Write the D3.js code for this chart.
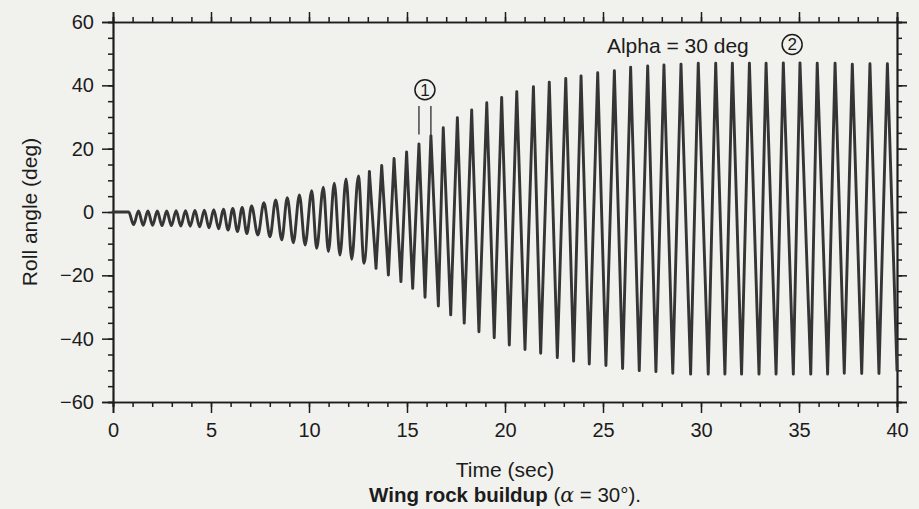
<!DOCTYPE html>
<html>
<head>
<meta charset="utf-8">
<script src="https://cdn.jsdelivr.net/npm/d3@7/dist/d3.min.js"></script>
<style>
  html, body { margin: 0; padding: 0; background: #f1f1ee; }
  svg { display: block; font-family: Arial, "Liberation Sans", sans-serif; }
</style>
</head>
<body>
<div id="chart"></div>
<script>
// roll angle turning points (peaks / troughs)
var timeSec = [0, 0.80,
  1.05, 1.30, 1.54, 1.78, 2.02, 2.26, 2.50, 2.74, 2.98, 3.22, 3.46, 3.70, 3.94, 4.18,
  4.42, 4.66, 4.90, 5.14, 5.39, 5.63, 5.87, 6.11, 6.35, 6.59, 6.83, 7.07,
  7.39, 7.70, 8.01, 8.30, 8.61, 8.89, 9.20, 9.51, 9.80, 10.14, 10.39, 10.73, 10.99, 11.29,
  11.58, 11.89, 12.18, 12.52, 12.81, 13.08, 13.42, 13.71, 14.05, 14.34, 14.69, 14.98,
  15.29, 15.61, 15.92, 16.22, 16.60, 16.85, 17.23, 17.57, 17.92, 18.30, 18.67, 19.07,
  19.45, 19.83, 20.22, 20.60, 21.02, 21.45, 21.82, 22.26, 22.67, 23.10, 23.50, 23.88,
  24.30, 24.73, 25.15, 25.58, 26.00, 26.41, 26.85, 27.28, 27.70, 28.11, 28.56, 28.98,
  29.47, 29.86, 30.37, 30.75, 31.22, 31.60, 32.07, 32.47, 32.96, 33.32, 33.83, 34.20,
  34.71, 35.05, 35.60, 35.93, 36.46, 36.84, 37.31, 37.72, 38.20, 38.62, 39.08, 39.51, 40.0];

var rollDeg = [0, 0,
  -4.0, 0.3, -4.2, 0.3, -4.2, 0.3, -4.3, 0.3, -4.3, 0.4, -4.4, 0.4, -4.5, 0.5,
  -4.7, 0.6, -5.0, 0.7, -5.3, 0.9, -5.7, 1.1, -6.2, 1.4, -6.8, 1.9,
  -7.3, 2.9, -7.8, 3.8, -8.8, 4.5, -9.7, 5.4, -10.4, 6.7, -11.5, 7.8, -12.5, 9.1,
  -13.6, 10.4, -14.9, 11.4, -16.2, 12.7, -17.8, 14.7, -19.9, 16.9, -22.0, 19.0,
  -24.1, 21.5, -26.9, 24.1, -29.7, 26.6, -32.5, 29.8, -35.1, 32.2, -37.8, 34.5,
  -39.7, 36.2, -42.0, 38.0, -43.4, 39.6, -44.6, 41.0, -46.0, 42.2, -47.1, 43.0,
  -48.0, 44.0, -48.5, 44.6, -49.4, 45.7, -50.1, 46.1, -50.4, 46.4, -50.9, 46.7,
  -51.2, 47.0, -51.2, 47.0, -51.2, 47.0, -51.2, 47.0, -51.2, 47.0, -51.2, 47.1,
  -51.2, 47.1, -51.2, 47.0, -51.2, 47.0, -50.9, 46.7, -51.0, 46.8, -51.0, 46.8, -50.0];

var xTicks = [0, 5, 10, 15, 20, 25, 30, 35, 40];
var yTicks = [-60, -40, -20, 0, 20, 40, 60];
var markerTimes = [15.61, 16.22]; // the two peaks flagged by (1)
var smoothUntil = 13.08; // trace looks sinusoidal before this, zig-zag after

var W = 919, H = 509;
var margin = {top: 22, right: 22, bottom: 107, left: 113};

var svg = d3.select('#chart').append('svg')
  .attr('width', W).attr('height', H);

var x = d3.scaleLinear().domain([0, 40]).range([margin.left, W - margin.right]);
var y = d3.scaleLinear().domain([-60, 60]).range([H - margin.bottom, margin.top]);

var ink = '#1c1c1c';

// minor ticks first, then the major ones with labels
function minor(axis, scale, vals) {
  return axis(scale).tickValues(vals).tickSize(5).tickFormat('');
}
var xMinor = d3.range(0, 41, 1), yMinor = d3.range(-60, 61, 5);

svg.append('g').attr('transform', 'translate(0,' + y(-60) + ')').call(minor(d3.axisBottom, x, xMinor));
svg.append('g').attr('transform', 'translate(0,' + y(60) + ')').call(minor(d3.axisTop, x, xMinor));
svg.append('g').attr('transform', 'translate(' + x(0) + ',0)').call(minor(d3.axisLeft, y, yMinor));
svg.append('g').attr('transform', 'translate(' + x(40) + ',0)').call(minor(d3.axisRight, y, yMinor));

svg.append('g')
  .attr('transform', 'translate(0,' + y(-60) + ')')
  .call(d3.axisBottom(x).tickValues(xTicks).tickSize(11).tickPadding(10));
svg.append('g')
  .attr('transform', 'translate(0,' + y(60) + ')')
  .call(d3.axisTop(x).tickValues(xTicks).tickSize(10).tickFormat(''));
svg.append('g')
  .attr('transform', 'translate(' + x(0) + ',0)')
  .call(d3.axisLeft(y).tickValues(yTicks).tickSize(11).tickPadding(8));
svg.append('g')
  .attr('transform', 'translate(' + x(40) + ',0)')
  .call(d3.axisRight(y).tickValues(yTicks).tickSize(10).tickFormat(''));

svg.selectAll('.domain').attr('stroke', ink).attr('stroke-width', 1.7);
svg.selectAll('.tick line').attr('stroke', ink).attr('stroke-width', 1.5);
svg.selectAll('.tick text').attr('fill', ink).attr('font-size', 20)
  .attr('font-family', 'Arial, "Liberation Sans", sans-serif');

// the roll trace: smooth part + straight zig-zag part
var pts = timeSec.map(function(t, i) { return [t, rollDeg[i]]; });
var early = pts.filter(function(d) { return d[0] <= smoothUntil; });
var late = pts.filter(function(d) { return d[0] >= smoothUntil; });

var smoothLine = d3.line()
  .x(function(d) { return x(d[0]); })
  .y(function(d) { return y(d[1]); })
  .curve(d3.curveMonotoneX);
var zigLine = d3.line()
  .x(function(d) { return x(d[0]); })
  .y(function(d) { return y(d[1]); });

svg.selectAll('path.trace')
  .data([[early, smoothLine], [late, zigLine]])
  .enter().append('path')
  .attr('class', 'trace')
  .attr('d', function(d) { return d[1](d[0]); })
  .attr('fill', 'none')
  .attr('stroke', '#353535')
  .attr('stroke-width', 2.9)
  .attr('stroke-linejoin', 'round')
  .attr('stroke-linecap', 'round');

// annotation (1): short lines above two peaks
svg.selectAll('line.mark')
  .data(markerTimes)
  .enter().append('line')
  .attr('class', 'mark')
  .attr('x1', function(d) { return x(d); })
  .attr('x2', function(d) { return x(d); })
  .attr('y1', y(33.5)).attr('y2', y(24.5))
  .attr('stroke', ink).attr('stroke-width', 1.2);

function circled(cx, cy, label) {
  svg.append('circle').attr('cx', cx).attr('cy', cy).attr('r', 10)
    .attr('fill', 'none').attr('stroke', ink).attr('stroke-width', 1.5);
  svg.append('text').attr('x', cx).attr('y', cy + 6)
    .attr('text-anchor', 'middle').attr('font-size', 17).attr('fill', ink)
    .text(label);
}
circled(x(d3.mean(markerTimes)), y(38.6), '1');
circled(x(34.65), y(52.9), '2');

svg.append('text')
  .attr('x', x(25.2)).attr('y', y(50.3))
  .attr('font-size', 21).attr('fill', ink)
  .text('Alpha = 30 deg');

// axis titles and caption
svg.append('text')
  .attr('transform', 'translate(30,' + y(0) + ') rotate(-90)')
  .attr('text-anchor', 'middle').attr('dy', '0.35em')
  .attr('font-size', 21).attr('fill', ink)
  .text('Roll angle (deg)');

svg.append('text')
  .attr('x', x(20)).attr('y', 477)
  .attr('text-anchor', 'middle')
  .attr('font-size', 21).attr('fill', ink)
  .text('Time (sec)');

var cap = svg.append('text')
  .attr('x', x(20)).attr('y', 502)
  .attr('text-anchor', 'middle')
  .attr('font-size', 20.5).attr('fill', ink);
cap.append('tspan').attr('font-weight', 'bold').text('Wing rock buildup ');
cap.append('tspan').text('(');
cap.append('tspan').attr('font-style', 'italic').attr('font-family', '"DejaVu Serif", serif').text('α');
cap.append('tspan').text(' = 30°).');
</script>
</body>
</html>
